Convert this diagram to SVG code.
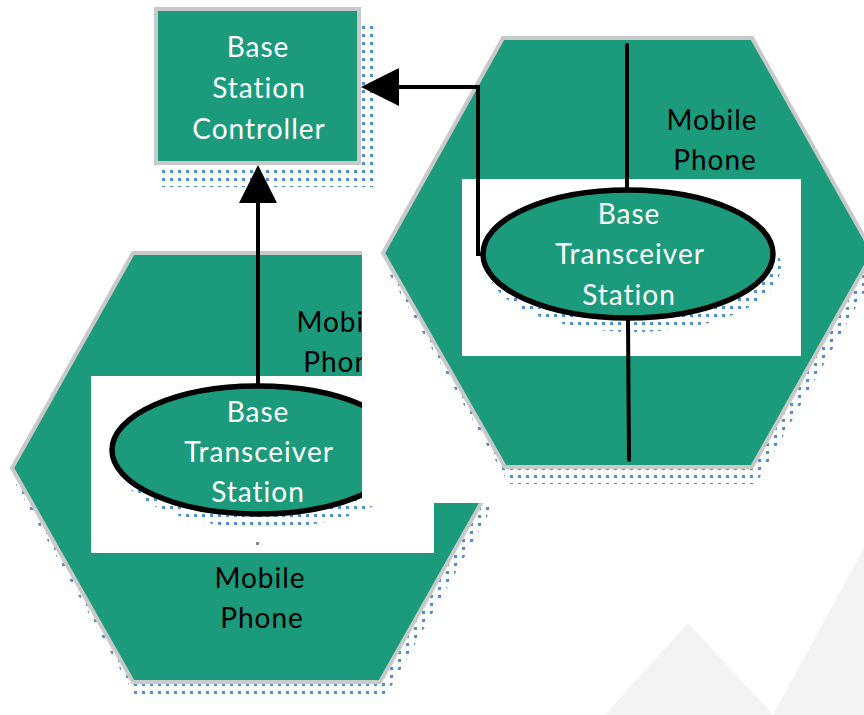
<svg xmlns="http://www.w3.org/2000/svg" width="864" height="715" viewBox="0 0 864 715">
  <style>
    .cell { fill: #1b9b7b; stroke: #c9c9c9; stroke-width: 4; stroke-linejoin: miter; }
    .box { fill: #1b9b7b; stroke: #c9c9c9; stroke-width: 4; }
    .bts { fill: #1b9b7b; stroke: #000; stroke-width: 5.5; }
    .pane { fill: #ffffff; }
    .shade { fill: url(#dots); }
    .lbl { font-family: Lato, "Liberation Sans", sans-serif; font-size: 28px; letter-spacing: 1px; text-anchor: middle; }
    .w { fill: #ffffff; }
    .k { fill: #000000; }
    .wire { fill: none; stroke: #000; stroke-width: 4; stroke-linecap: round; stroke-linejoin: miter; }
    .bg { fill: #f2f3f5; }
  </style>
  <defs>
    <pattern id="dots" x="0" y="0" width="8" height="8" patternUnits="userSpaceOnUse">
      <rect x="2" y="2" width="3" height="3" fill="#4f8fd0" shape-rendering="crispEdges"/>
    </pattern>
    <marker id="head" viewBox="0 0 38 38" refX="24" refY="19" markerWidth="38" markerHeight="38" markerUnits="userSpaceOnUse" orient="auto">
      <path d="M0,0 L38,19 L0,38 Z" fill="#000"/>
    </marker>
  </defs>

  <!-- faint background peaks -->
  <g id="backdrop">
    <polygon class="bg" points="605,715 688,623 773,715"/>
    <polygon class="bg" points="773,715 864,548 864,715"/>
  </g>

  <!-- lower-left cell -->
  <g id="cell-left">
    <polygon class="shade" transform="translate(4,17)" points="133,253 380,253 501,468 380,682 133,682 12,468"/>
    <polygon class="cell" points="133,253 380,253 501,468 380,682 133,682 12,468"/>
    <text class="lbl k" x="342" y="332">Mobile</text>
    <text class="lbl k" x="345" y="372">Phone</text>
    <rect class="pane" x="91" y="376" width="343" height="177"/>
    <rect x="256" y="542" width="3" height="3" fill="#888"/>
    <text class="lbl k" x="260" y="588">Mobile</text>
    <text class="lbl k" x="262" y="628">Phone</text>
  </g>
  <g id="bts-left">
    <ellipse class="shade" cx="264" cy="462" rx="147" ry="66"/>
    <ellipse class="bts" cx="258" cy="450" rx="146" ry="64"/>
    <text class="lbl w" x="258" y="422">Base</text>
    <text class="lbl w" x="259" y="462">Transceiver</text>
    <text class="lbl w" x="258" y="502">Station</text>
  </g>

  <!-- upper-right cell -->
  <g id="cell-right">
    <rect class="pane" x="362" y="190" width="502" height="313"/>
    <polygon class="shade" transform="translate(4,17)" points="503,38 752,38 873,253 752,467 505,467 383,253"/>
    <polygon class="cell" points="503,38 752,38 873,253 752,467 505,467 383,253"/>
    <text class="lbl k" x="712" y="130">Mobile</text>
    <text class="lbl k" x="715" y="170">Phone</text>
    <rect class="pane" x="462" y="179" width="339" height="177"/>
  </g>
  <g id="bts-right">
    <ellipse class="shade" cx="634" cy="266" rx="147" ry="66"/>
    <ellipse class="bts" cx="628" cy="254" rx="145" ry="64"/>
    <text class="lbl w" x="629" y="224">Base</text>
    <text class="lbl w" x="630" y="264">Transceiver</text>
    <text class="lbl w" x="629" y="305">Station</text>
  </g>

  <!-- controller -->
  <g id="bsc">
    <rect class="shade" x="158" y="26" width="216" height="161"/>
    <rect class="box" x="156" y="9" width="203" height="154"/>
    <text class="lbl w" x="258" y="57">Base</text>
    <text class="lbl w" x="259" y="98">Station</text>
    <text class="lbl w" x="259" y="139">Controller</text>
  </g>

  <!-- links -->
  <g id="connectors">
    <path class="wire" d="M258,384 V179" marker-end="url(#head)" stroke-linecap="butt"/>
    <path class="wire" d="M480,254 H478 V87 H375" marker-end="url(#head)" stroke-linecap="butt"/>
    <path class="wire" d="M627,45 V189"/>
    <path class="wire" d="M628,318 L629,460"/>
  </g>
</svg>
